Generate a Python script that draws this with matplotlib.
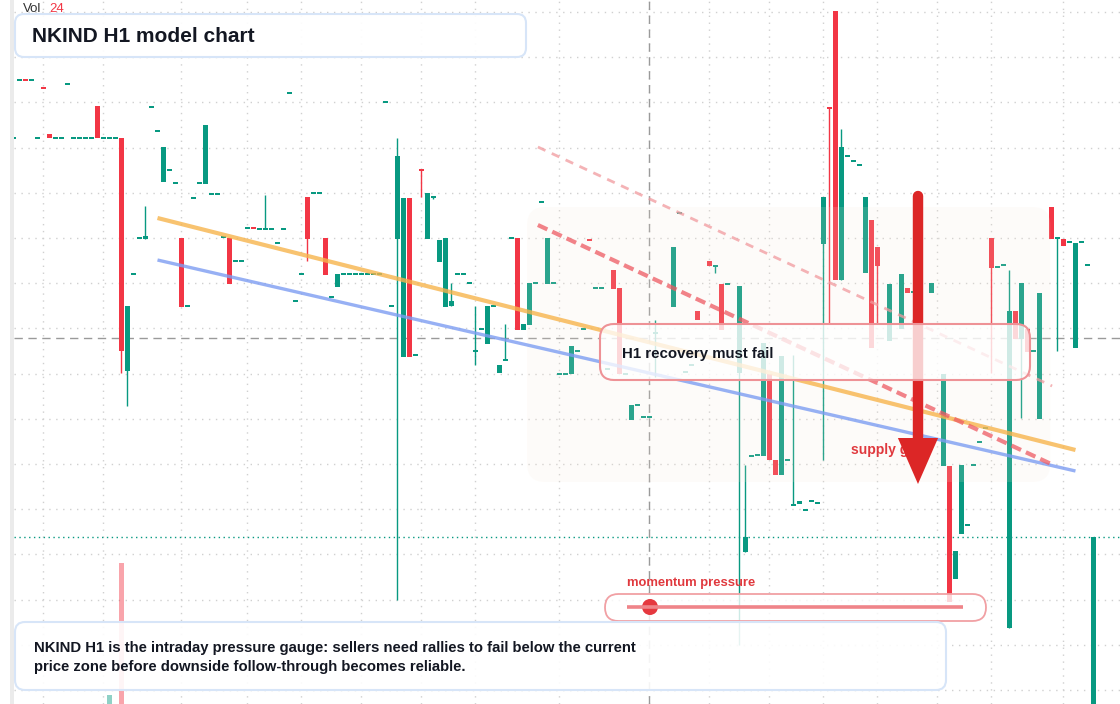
import numpy as np
import matplotlib
matplotlib.use("Agg")
import matplotlib.pyplot as plt
from matplotlib.patches import FancyBboxPatch, Polygon, Circle

plt.rcParams['font.family'] = ['Liberation Sans', 'DejaVu Sans']

# hourly candles, index 0..182 (None = no bar drawn)
opens = [
    None, None, 86.2, 92.0, 92.0, 92.0, 86.2, 91.2, 86.6, 86.2,
    86.2, 91.6, 86.2, 86.2, 86.2, 86.2, 89.4, 86.2, 86.2, 86.2,
    86.2, 62.9, 72.6, 76.2, 76.1, 89.3, 86.9, 81.8, 83.0, 81.7,
    76.2, 69.4, 80.2, 81.7, 81.6, 80.6, 80.6, 76.3, 76.2, 73.9,
    73.9, 77.2, 77.2, 77.1, 77.1, 77.1, 75.7, 77.1, 90.7, 69.9,
    72.6, 80.3, 80.7, 80.7, 76.2, 70.3, 71.3, 72.6, 72.6, 72.6,
    72.6, 72.6, 72.6, 72.6, 89.8, 69.4, 76.1, 64.3, 80.2, 64.5,
    83.0, 76.1, 80.3, 73.8, 69.3, 69.4, 72.6, 72.6, 71.7, 64.9,
    67.1, 65.6, 69.4, 62.7, 64.0, 76.2, 76.2, 67.0, 67.5, 71.7,
    79.8, 71.6, 71.7, 62.6, 62.6, 62.6, 64.9, 67.1, 76.1, 71.2,
    71.2, 63.1, 73.0, 71.2, 62.6, 58.0, 59.5, 58.3, 58.3, 66.7,
    None, None, 69.3, 78.7, 62.8, 63.5, 68.9, None, 73.9, 73.4,
    71.6, 71.6, None, 62.7, 44.8, 54.4, 54.5, 54.4, 62.6, 54.0,
    52.5, 54.0, 49.5, 49.6, 49.0, 49.9, 49.7, 75.6, 89.3, 98.9,
    72.0, 84.4, 83.9, 83.5, 72.7, 78.0, 75.3, None, 65.9, None,
    67.1, 71.2, 70.8, None, None, 70.7, None, 53.4, 53.4, 42.1,
    46.6, 47.5, 53.5, 55.8, 57.2, 76.2, 73.3, 73.5, 37.2, 68.9,
    66.1, 67.1, 64.9, 58.1, None, 79.3, 76.2, 76.1, 75.8, 65.2,
    75.8, 73.5, 28.0,
]
closes = [
    None, None, 86.2, 92.0, 91.95, 92.0, 86.2, 91.15, 86.2, 86.2,
    86.2, 91.6, 86.2, 86.2, 86.2, 86.2, 86.2, 86.2, 86.2, 86.2,
    64.9, 69.4, 72.6, 76.2, 76.4, 89.3, 86.9, 85.3, 83.0, 81.7,
    69.3, 69.4, 80.2, 81.7, 87.5, 80.6, 80.6, 76.3, 71.6, 73.9,
    73.9, 77.2, 77.15, 77.1, 77.1, 77.1, 75.7, 77.1, 90.7, 69.9,
    72.6, 76.1, 80.7, 80.7, 72.5, 70.3, 72.6, 72.6, 72.6, 72.6,
    72.6, 72.6, 72.6, 72.6, 89.8, 69.4, 84.4, 80.2, 64.3, 64.5,
    82.9, 80.7, 80.3, 76.0, 76.2, 69.9, 72.6, 72.6, 71.7, 64.9,
    67.1, 69.4, 69.4, 63.5, 64.0, 76.2, 67.0, 67.6, 71.7, 71.7,
    79.8, 76.2, 71.7, 62.6, 62.6, 65.4, 64.9, 67.1, 75.9, 71.2,
    71.2, 63.1, 71.1, 62.6, 62.6, 59.5, 59.5, 58.3, 58.3, 66.7,
    None, None, 75.3, 78.7, 62.8, 63.5, 68.0, None, 73.4, 73.4,
    67.0, 71.6, None, 71.4, 46.3, 54.4, 54.5, 65.7, 54.0, 52.5,
    64.4, 54.0, 49.5, 49.9, 49.0, 49.9, 49.7, 80.3, 89.1, 72.0,
    85.3, 84.4, 83.9, 83.5, 80.3, 65.2, 73.4, None, 71.6, None,
    72.6, 70.7, 70.8, None, None, 71.7, None, 62.6, 39.8, 44.9,
    53.5, 47.5, 53.5, 55.8, 57.2, 73.2, 73.3, 73.5, 68.9, 66.1,
    71.7, 64.8, 64.9, 70.7, None, 76.1, 76.2, 75.4, 75.8, 75.7,
    75.8, 73.5, 46.3,
]
# wick extremes that reach past the body
wick_high = {24: 79.4, 44: 80.5, 66: 86.2, 75: 71.7, 79: 69.4, 84: 67.6,
             109: 68.0, 124: 53.5, 132: 64.5, 140: 87.1, 168: 73.0}
wick_low = {20: 62.7, 21: 59.4, 51: 73.9, 66: 40.0, 70: 80.3, 72: 80.1,
            79: 63.5, 109: 62.3, 119: 72.7, 123: 35.5, 137: 54.0, 138: 67.7,
            146: 67.7, 165: 62.7, 170: 58.2, 176: 64.9}
volume = {18: 6.5, 20: 100}
last_close = 46.3
time_ticks = [7, 17, 30, 41, 50, 60, 70, 79, 93, 108, 118, 128, 137, 146, 156, 165, 177]

GREEN = '#089981'
RED = '#f23645'
W, H = 1120, 704
fig = plt.figure(figsize=(11.2, 7.04), dpi=100)
fig.patch.set_facecolor('white')

ax = fig.add_axes([0, 0, 1, 1])
ax.set_xlim(-0.25, 186.42)
ax.set_ylim(29.6, 100)
ax.set_axis_off()

# grid
for p in np.arange(31.0, 99.5, 4.52):
    ax.plot([2.1, 187], [p, p], color='#d0d0d0', lw=1, ls=(0, (1, 4)), zorder=1)
for t in time_ticks:
    ax.plot([t, t], [29.6, 100], color='#d0d0d0', lw=1, ls=(0, (1, 4)), zorder=1)

# crosshair and last price line
ax.plot([2.1, 187], [66.2, 66.2], color='#9a9a9a', lw=1, ls=(0, (6, 4)), zorder=1.5)
ax.plot([108, 108], [29.6, 100], color='#9a9a9a', lw=1, ls=(0, (6, 4)), zorder=1.5)
ax.plot([2.1, 187], [last_close, last_close], color=GREEN, lw=1, ls=(0, (1, 2.5)), zorder=1.5)

# candles
for i, (o, c) in enumerate(zip(opens, closes)):
    if o is None:
        continue
    col = GREEN if c >= o else RED
    top, bot = max(o, c), min(o, c)
    hi = wick_high.get(i, top)
    lo = wick_low.get(i, bot)
    if hi > top or lo < bot:
        ax.plot([i, i], [lo, hi], color=col, lw=1, zorder=2, solid_capstyle='butt')
    h = top - bot
    if h < 0.2:
        bot, h = (top + bot) / 2 - 0.1, 0.2
    ax.bar(i, h, bottom=bot, width=0.83, color=col, linewidth=0, zorder=3)

# volume
vax = ax.twinx()
vax.set_ylim(0, 500)
vax.set_axis_off()
for i, v in volume.items():
    col = GREEN if closes[i] >= opens[i] else RED
    vax.bar(i, v, width=0.83, color=col, alpha=0.45, linewidth=0)

# trend lines
ax.plot([26, 179], [78.2, 55.0], color='#f7b44c', alpha=0.8, lw=3, zorder=5, solid_capstyle='butt')
ax.plot([26, 179], [74.0, 52.9], color='#7d9df2', alpha=0.8, lw=2.4, zorder=5, solid_capstyle='butt')
ax.plot([89.4, 175.3], [77.5, 53.5], color='#ee5a62', alpha=0.75, lw=3, ls=(0, (2.5, 1.3)), zorder=5)
ax.plot([89.4, 175.1], [85.3, 61.4], color='#f19a9e', alpha=0.75, lw=2, ls=(0, (3, 2.5)), zorder=5)

# supply zone tint
zone = FancyBboxPatch((87.6, 51.8), 87.2, 27.5,
                      boxstyle='round,pad=0,rounding_size=3', mutation_aspect=0.6,
                      facecolor='#f8e8d8', edgecolor='none', alpha=0.15, zorder=4)
ax.add_patch(zone)

# supply gate arrow
ax.text(141.6, 55.0, 'supply gate', color='#e0393e', fontsize=10, fontweight='bold',
        ha='left', va='center', zorder=6)
ax.plot([152.75, 152.75], [80.4, 56.0], color='#dc2626', lw=7.5, solid_capstyle='round', zorder=7)
ax.add_patch(Polygon([[149.4, 56.2], [156.1, 56.2], [152.75, 51.6]], closed=True,
                     facecolor='#dc2626', edgecolor='none', zorder=7))

# overlay in pixel space for panels
ov = fig.add_axes([0, 0, 1, 1])
ov.set_xlim(0, W)
ov.set_ylim(H, 0)
ov.set_axis_off()
ov.patch.set_alpha(0)

ov.add_patch(plt.Rectangle((10, 0), 4, H, facecolor='#ebebeb', edgecolor='none'))

def panel(x, y, w, h, r, edge, alpha, lw=1.5):
    ov.add_patch(FancyBboxPatch((x, y), w, h, boxstyle=f'round,pad=0,rounding_size={r}',
                                facecolor='white', edgecolor='none', alpha=alpha))
    ov.add_patch(FancyBboxPatch((x, y), w, h, boxstyle=f'round,pad=0,rounding_size={r}',
                                facecolor='none', edgecolor=edge, lw=lw))

panel(15, 14, 511, 43, 9, '#d7e5f8', 0.93)
ov.text(32, 37, 'NKIND H1 model chart', fontsize=15, fontweight='bold', color='#131722',
        ha='left', va='center')
ov.text(23, 9, 'Vol', fontsize=9.5, color='#333333', ha='left', va='center')
ov.text(49, 9, '24', fontsize=9.5, color=RED, ha='left', va='center')

panel(600, 324, 430, 56, 14, '#ee9296', 0.78)
ov.text(622, 354, 'H1 recovery must fail', fontsize=10.8, fontweight='bold', color='#131722',
        ha='left', va='center')

ov.text(627, 583, 'momentum pressure', fontsize=9.4, fontweight='bold', color='#e0393e',
        ha='left', va='center')
panel(605, 594, 381, 27, 13.5, '#f1a0a4', 0.8, lw=1.3)
ov.plot([627, 963], [607, 607], color='#ef8489', lw=2.6, solid_capstyle='butt')
ov.add_patch(Circle((650, 607), 8, facecolor='#e5383f', edgecolor='none'))

panel(15, 622, 931, 68, 10, '#d7e5f8', 0.9)
ov.text(34, 648, 'NKIND H1 is the intraday pressure gauge: sellers need rallies to fail below the current',
        fontsize=10.7, fontweight='bold', color='#131722', ha='left', va='center')
ov.text(34, 667, 'price zone before downside follow-through becomes reliable.',
        fontsize=10.7, fontweight='bold', color='#131722', ha='left', va='center')

fig.savefig('out.png', dpi=100, facecolor='white')
